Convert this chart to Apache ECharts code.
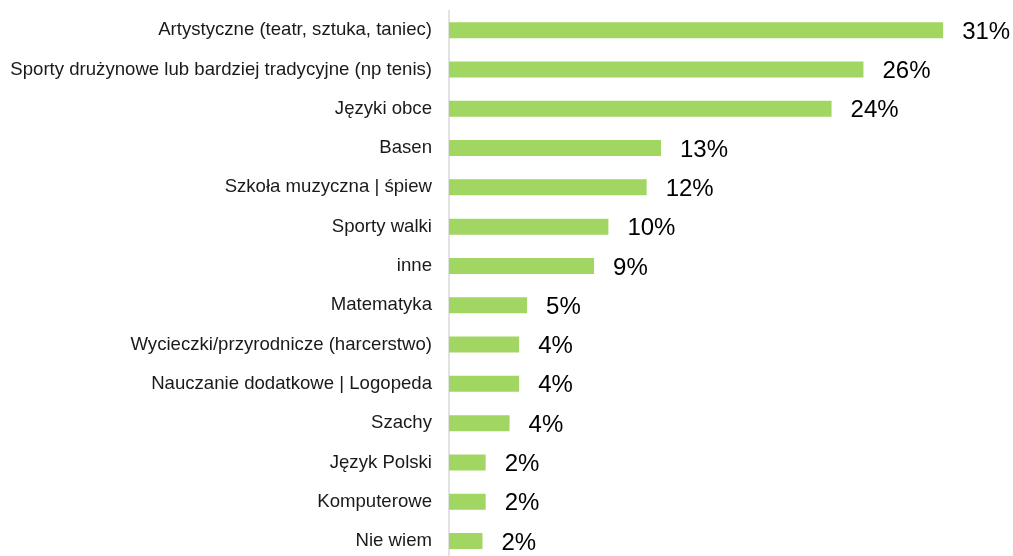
<!DOCTYPE html>
<html>
<head>
<meta charset="utf-8">
<script src="https://cdn.jsdelivr.net/npm/echarts@6/dist/echarts.min.js"></script>
<style>
  html, body { margin: 0; padding: 0; background: #fff; }
  #main { width: 1013px; height: 556px; }
</style>
</head>
<body>
<div id="main"></div>
<script>
// kategorie (od góry do dołu)
var categories = [
  'Artystyczne (teatr, sztuka, taniec)',
  'Sporty drużynowe lub bardziej tradycyjne (np tenis)',
  'Języki obce',
  'Basen',
  'Szkoła muzyczna | śpiew',
  'Sporty walki',
  'inne',
  'Matematyka',
  'Wycieczki/przyrodnicze (harcerstwo)',
  'Nauczanie dodatkowe | Logopeda',
  'Szachy',
  'Język Polski',
  'Komputerowe',
  'Nie wiem'
];
var values = [31, 26, 24, 13.3, 12.4, 10, 9.1, 4.9, 4.4, 4.4, 3.8, 2.3, 2.3, 2.1];
// etykiety pokazywane przy słupkach
var valueLabels = ['31%', '26%', '24%', '13%', '12%', '10%', '9%', '5%', '4%', '4%', '4%', '2%', '2%', '2%'];

var myChart = echarts.init(document.getElementById('main'), null, { renderer: 'canvas' });

var option = {
  animation: false,
  textStyle: { fontFamily: 'Liberation Sans, Arial, sans-serif' },
  grid: {
    left: 449,
    top: 10.5,
    width: 35 * 15.94,
    height: 14 * 39.3,
    containLabel: false,
    outerBoundsMode: 'none'
  },
  xAxis: {
    type: 'value',
    min: 0,
    max: 35,
    show: false
  },
  yAxis: {
    type: 'category',
    inverse: true,
    data: categories,
    axisLine: { show: true, lineStyle: { color: '#d9d9d9', width: 1.5 } },
    axisTick: { show: false },
    axisLabel: {
      color: '#1a1a1a',
      fontSize: 18.6,
      margin: 17,
      fontFamily: 'Liberation Sans, Arial, sans-serif'
    }
  },
  series: [{
    type: 'bar',
    data: values,
    barWidth: 16,
    itemStyle: { color: '#a2d662' },
    label: {
      show: true,
      position: 'right',
      distance: 19,
      color: '#000',
      fontSize: 24,
      fontFamily: 'Liberation Sans, Arial, sans-serif',
      offset: [0, 2],
      formatter: function (p) { return valueLabels[p.dataIndex]; }
    }
  }]
};
myChart.setOption(option);
</script>
</body>
</html>
